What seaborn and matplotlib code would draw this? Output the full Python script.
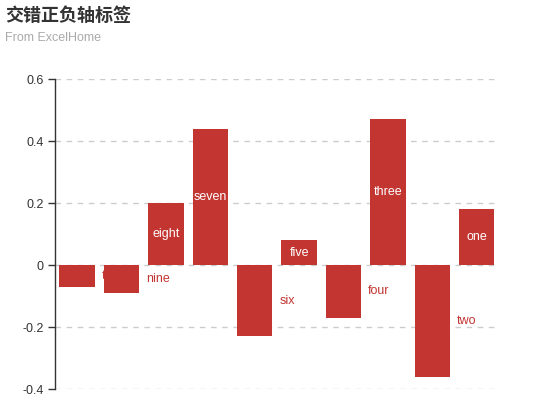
import matplotlib
matplotlib.use("Agg")
import matplotlib.pyplot as plt
import seaborn as sns
import pandas as pd

categories = ["ten", "nine", "eight", "seven", "six", "five", "four", "three", "two", "one"]
values = [-0.07, -0.09, 0.20, 0.44, -0.23, 0.08, -0.17, 0.47, -0.36, 0.18]
yticks = [-0.4, -0.2, 0, 0.2, 0.4, 0.6]
ytick_labels = ["-0.4", "-0.2", "0", "0.2", "0.4", "0.6"]

sns.set_style("white")
plt.rcParams['font.family'] = ['Liberation Sans', 'Noto Sans CJK SC', 'DejaVu Sans']

RED = "#c23531"
df = pd.DataFrame({"cat": categories, "val": values})

fig = plt.figure(figsize=(5.5, 4.2), dpi=100)
ax = fig.add_axes([0.1, 0.0738, 0.807, 0.7381])
sns.barplot(data=df, x="cat", y="val", color=RED, saturation=1, width=0.8, ax=ax, order=categories)

ax.set_ylim(-0.4, 0.6)
ax.set_xlim(-0.5, len(categories) - 0.5)
ax.set_yticks(yticks)
ax.set_yticklabels(ytick_labels)
ax.set_xticks([])
ax.set_xlabel("")
ax.set_ylabel("")
for y in yticks:
    ax.axhline(y, color="#cccccc", lw=1, ls=(0, (4, 4)), zorder=1)

for s in ["top", "right", "bottom"]:
    ax.spines[s].set_visible(False)
ax.spines["left"].set_color("#333333")
ax.spines["left"].set_linewidth(1)
ax.tick_params(axis="y", length=5, width=1, color="#333333", labelcolor="#333333", labelsize=9, pad=3, left=True)

for i, (p, v, c) in enumerate(zip(ax.patches, values, categories)):
    p.set_zorder(3 + 2 * i)
    p.set_edgecolor("none")
    x0 = p.get_x()
    w = p.get_width()
    if v >= 0:
        ax.text(x0 + w / 2, v / 2, c, color="white", fontsize=9, ha="center", va="center", zorder=4 + 2 * i)
    else:
        ax.annotate(c, xy=(x0 + w, v / 2), xytext=(5, 0), textcoords="offset points",
                    color=RED, fontsize=9, ha="left", va="center", zorder=4 + 2 * i)

fig.text(5 / 550, 1 - 15 / 420, "交错正负轴标签", fontsize=13, fontweight="bold", color="#333333",
         family=['Noto Sans CJK SC', 'DejaVu Sans'], ha="left", va="center")
fig.text(5 / 550, 1 - 38 / 420, "From ExcelHome", fontsize=9, color="#aaaaaa", ha="left", va="center")

fig.savefig("out.png", dpi=100)
